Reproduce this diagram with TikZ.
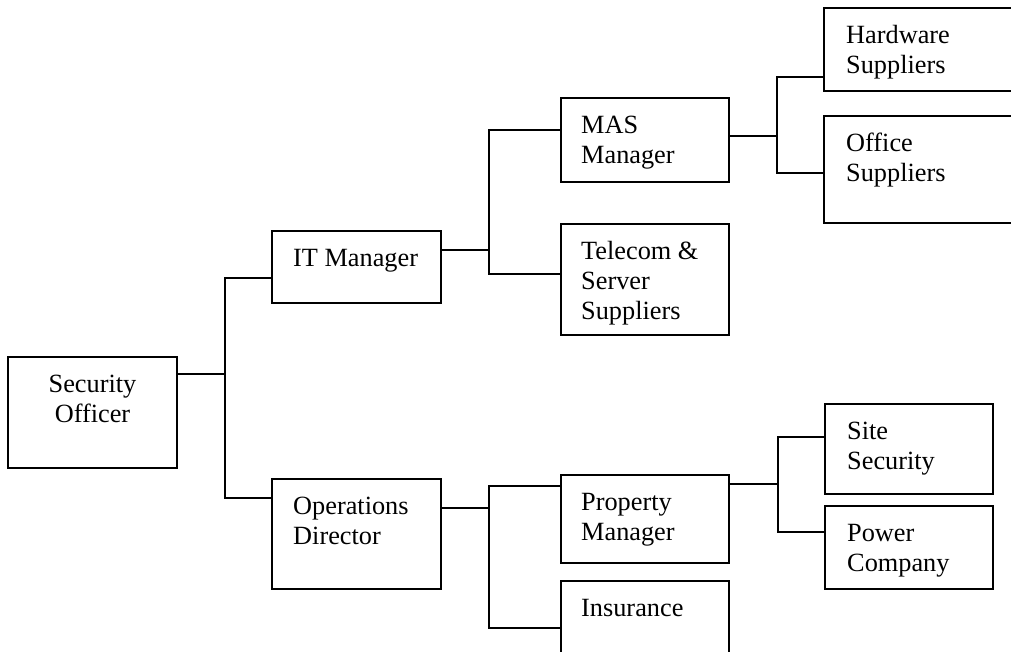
\documentclass[tikz,border=0pt]{standalone}
\usepackage{fontspec}
\setmainfont{Liberation Serif}
\begin{document}
\begin{tikzpicture}[x=1pt,y=-1pt,
  boxnode/.style={draw=black,line width=1.7pt,rectangle,inner sep=0pt,outer sep=0pt,anchor=north west},
  txt/.style={inner sep=0pt,align=left,anchor=north west,font=\fontsize{26.3}{30}\selectfont},
  link/.style={draw=black,line width=1.7pt}]
\useasboundingbox (0,0) rectangle (1011,651);
\clip (0,0) rectangle (1011,651);
% boxes
\node[boxnode,minimum width=169pt,minimum height=111pt] (so) at (8,357) {};
\node[txt,align=center,anchor=north] (soT) at (92.5,367) {\rule{0pt}{25pt}Security\\Officer};
\node[boxnode,minimum width=169pt,minimum height=72pt] (it) at (272,231) {};
\node[txt] (itT) at (293,241) {\rule{0pt}{25pt}IT Manager};
\node[boxnode,minimum width=169pt,minimum height=110pt] (op) at (272,479) {};
\node[txt] (opT) at (293,489) {\rule{0pt}{25pt}Operations\\Director};
\node[boxnode,minimum width=168pt,minimum height=84pt] (mas) at (561,98) {};
\node[txt] (masT) at (581,108) {\rule{0pt}{25pt}MAS\\Manager};
\node[boxnode,minimum width=168pt,minimum height=111pt] (tel) at (561,224) {};
\node[txt] (telT) at (581,234) {\rule{0pt}{25pt}Telecom \&\\Server\\Suppliers};
\node[boxnode,minimum width=168pt,minimum height=88pt] (pr) at (561,475) {};
\node[txt] (prT) at (581,485) {\rule{0pt}{25pt}Property\\Manager};
\node[boxnode,minimum width=168pt,minimum height=100pt] (ins) at (561,581) {};
\node[txt] (inT) at (581,591) {\rule{0pt}{25pt}Insurance};
\node[boxnode,minimum width=216pt,minimum height=83pt] (hw) at (824,8) {};
\node[txt] (hwT) at (846,18) {\rule{0pt}{25pt}Hardware\\Suppliers};
\node[boxnode,minimum width=216pt,minimum height=107pt] (of) at (824,116) {};
\node[txt] (ofT) at (846,126) {\rule{0pt}{25pt}Office\\Suppliers};
\node[boxnode,minimum width=168pt,minimum height=90pt] (si) at (825,404) {};
\node[txt] (siT) at (847,414) {\rule{0pt}{25pt}Site\\Security};
\node[boxnode,minimum width=168pt,minimum height=83pt] (po) at (825,506) {};
\node[txt] (poT) at (847,516) {\rule{0pt}{25pt}Power\\Company};
% junctions
\coordinate (j1) at (225,374);
\coordinate (j1a) at (225,278);
\coordinate (j1b) at (225,498);
\coordinate (j2) at (489,250);
\coordinate (j2a) at (489,130);
\coordinate (j2b) at (489,274);
\coordinate (j3) at (777,136);
\coordinate (j3a) at (777,77);
\coordinate (j3b) at (777,173);
\coordinate (j4) at (489,508);
\coordinate (j4a) at (489,486);
\coordinate (j4b) at (489,628);
\coordinate (j5) at (778,484);
\coordinate (j5a) at (778,437);
\coordinate (j5b) at (778,532);
% connectors
\draw[link] (so.east |- j1) -- (j1);
\draw[link] (it.west |- j1a) -- (j1a) -- (j1b) -- (op.west |- j1b);
\draw[link] (it.east |- j2) -- (j2);
\draw[link] (mas.west |- j2a) -- (j2a) -- (j2b) -- (tel.west |- j2b);
\draw[link] (mas.east |- j3) -- (j3);
\draw[link] (hw.west |- j3a) -- (j3a) -- (j3b) -- (of.west |- j3b);
\draw[link] (op.east |- j4) -- (j4);
\draw[link] (pr.west |- j4a) -- (j4a) -- (j4b) -- (ins.west |- j4b);
\draw[link] (pr.east |- j5) -- (j5);
\draw[link] (si.west |- j5a) -- (j5a) -- (j5b) -- (po.west |- j5b);
\end{tikzpicture}
\end{document}
